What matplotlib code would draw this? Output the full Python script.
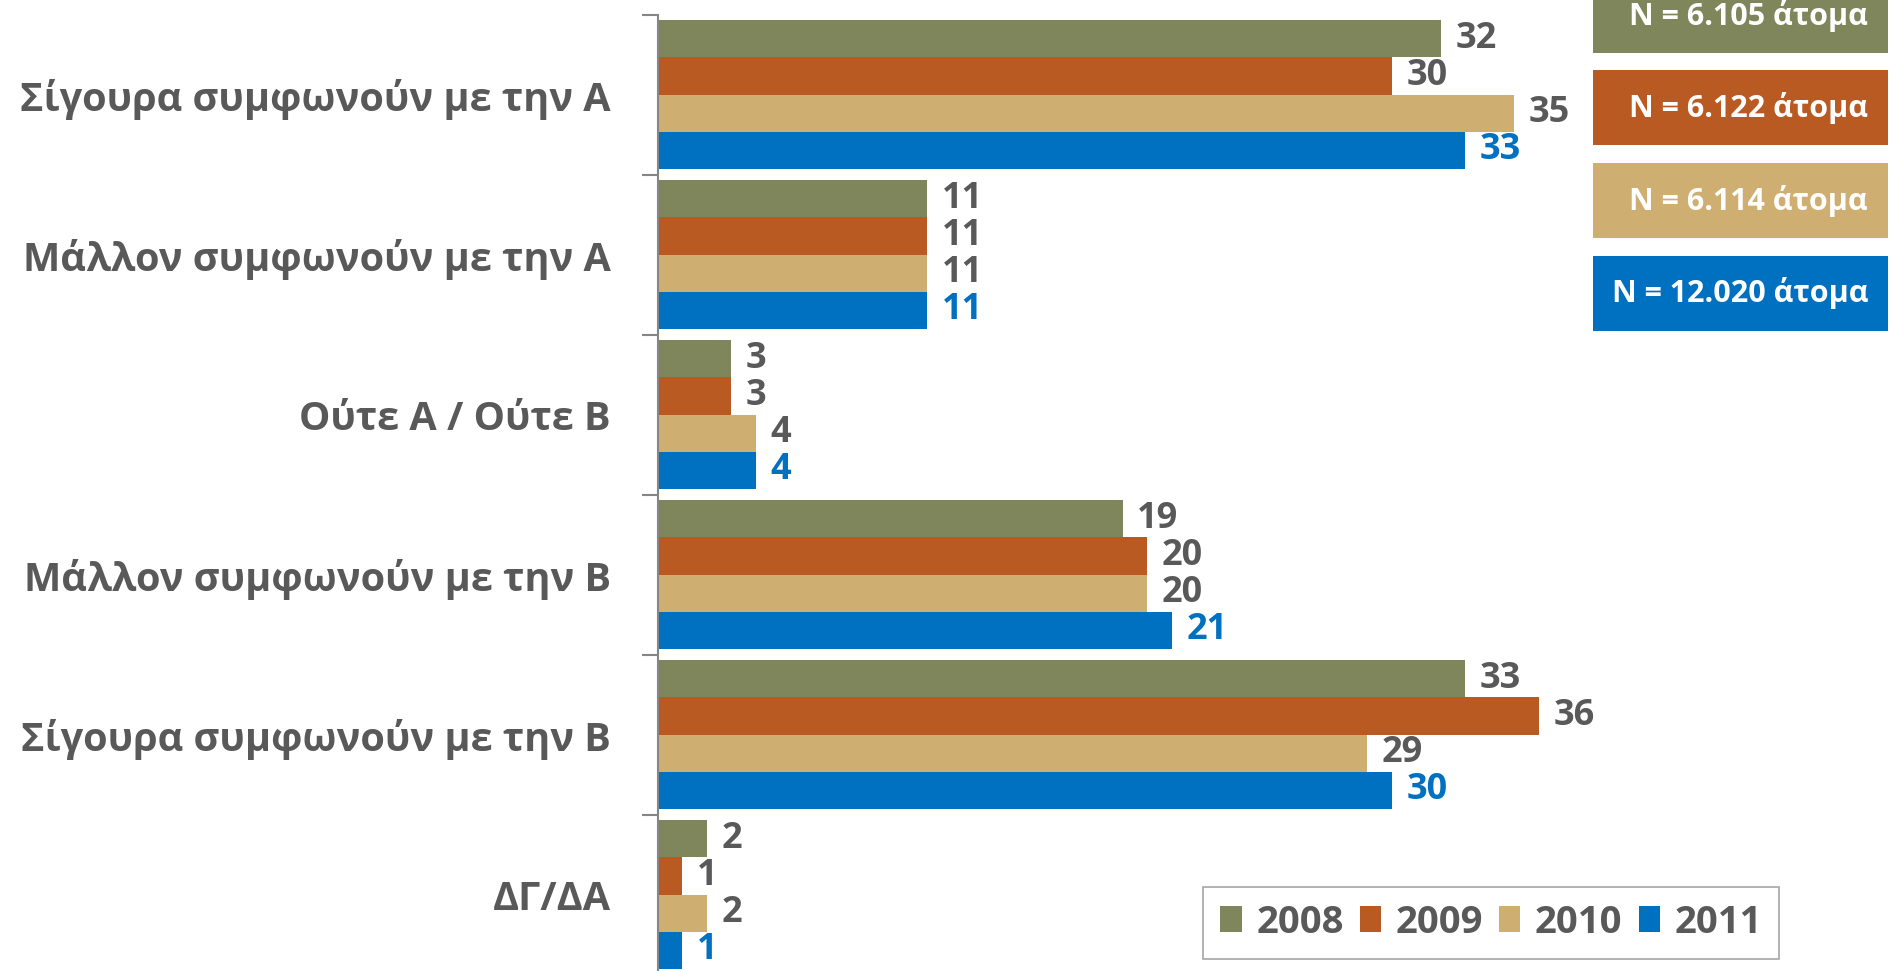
import matplotlib
matplotlib.use("Agg")
import matplotlib.pyplot as plt   # noqa: E402
from matplotlib.patches import Rectangle   # noqa: E402
import numpy as np   # noqa: E402

W, H = 1892, 971

categories = ["Σίγουρα συμφωνούν με την Α", "Μάλλον συμφωνούν με την Α",
              "Ούτε Α / Ούτε Β", "Μάλλον συμφωνούν με την Β",
              "Σίγουρα συμφωνούν με την Β", "ΔΓ/ΔΑ"]
years = ["2008", "2009", "2010", "2011"]
v2008 = [32, 11, 3, 19, 33, 2]
v2009 = [30, 11, 3, 20, 36, 1]
v2010 = [35, 11, 4, 20, 29, 2]
v2011 = [33, 11, 4, 21, 30, 1]
n_labels = ["N = 6.105 άτομα", "N = 6.122 άτομα", "N = 6.114 άτομα",
            "N = 12.020 άτομα"]

COLORS = ["#80865B", "#B85A22", "#CFAE72", "#0070C0"]
GRAY = "#595959"
FONT = "Open Sans"

plt.rcParams["font.family"] = [FONT, "DejaVu Sans"]
plt.rcParams["font.weight"] = "bold"

fig = plt.figure(figsize=(W / 100, H / 100), dpi=100)
ax = fig.add_axes([658 / W, -4 / H, 1223 / W, 960 / H])

y = np.arange(len(categories))
h = 0.233
series = [v2008, v2009, v2010, v2011]
for k, (yr, vals, col) in enumerate(zip(years, series, COLORS)):
    yy = y + (k - 1.5) * h - 0.003
    ax.barh(yy, vals, height=h, color=col, label=yr)
    tc = COLORS[3] if k == 3 else GRAY
    for v, yc in zip(vals, yy):
        ax.annotate(str(v), (v, yc), xytext=(10.5, 0), textcoords="offset points",
                    ha="left", va="center", fontsize=26, fontweight="bold",
                    color=tc)

ax.set_xlim(0, 50)
ax.set_ylim(5.5, -0.5)
ax.set_yticks(y)
ax.set_yticklabels(categories, fontsize=28.5, fontweight="bold", color=GRAY)
ax.set_yticks(np.arange(-0.5, 6.0, 1.0), minor=True)
ax.tick_params(axis="y", which="major", length=0, pad=34)
ax.tick_params(axis="y", which="minor", length=11.5, width=1.5,
               color="#868686", direction="out")
ax.set_xticks([])
for s in ("top", "right", "bottom"):
    ax.spines[s].set_visible(False)
ax.spines["left"].set_color("#868686")
ax.spines["left"].set_linewidth(1.5)

leg = ax.legend(loc="lower left", bbox_to_anchor=(1203 / W, 12 / H),
                bbox_transform=fig.transFigure, ncol=4, frameon=True,
                fancybox=False, edgecolor="#A6A6A6", framealpha=1,
                prop={"family": FONT, "weight": "bold", "size": 27.5},
                labelcolor=GRAY, handlelength=0.56, handleheight=0.67,
                handletextpad=0.38, columnspacing=0.42, borderpad=0.45,
                borderaxespad=0)
leg.get_frame().set_linewidth(1.2)

# sample-size boxes, top right
for k, (txt, col) in enumerate(zip(n_labels, COLORS)):
    top = -22 + 92.5 * k
    bh = 75
    fig.patches.append(Rectangle((1593 / W, 1 - (top + bh) / H), 295 / W, bh / H,
                                 transform=fig.transFigure, facecolor=col,
                                 edgecolor="none"))
    fig.text(1868 / W, 1 - (top + bh / 2) / H, txt, ha="right", va="center",
             fontsize=22, fontweight="bold", color="white")

fig.savefig("out.png", dpi=100)
